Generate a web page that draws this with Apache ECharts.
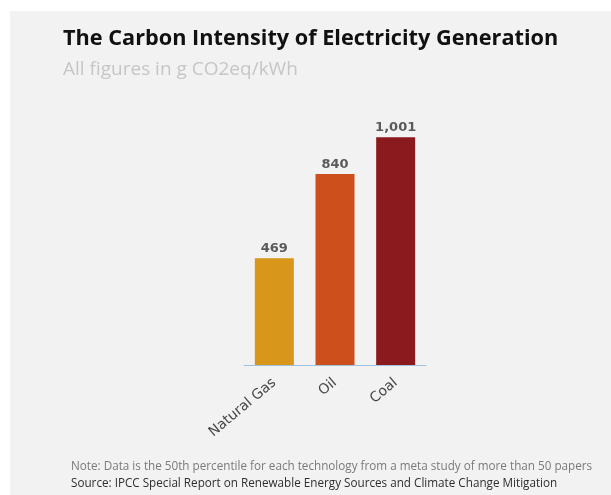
<!DOCTYPE html>
<html>
<head>
<meta charset="utf-8">
<script src="https://cdn.jsdelivr.net/npm/echarts@6/dist/echarts.min.js"></script>
<style>
  html, body { margin: 0; padding: 0; background: #ffffff; }
  #chart { width: 611px; height: 495px; }
</style>
</head>
<body>
<div id="chart"></div>
<script>
// Median life-cycle emissions per generation technology
const categories = ['Natural Gas', 'Oil', 'Coal'];
const intensity = [469, 840, 1001];
const barColors = ['#d8961a', '#cd4f1b', '#8b1a1e'];

const chart = echarts.init(document.getElementById('chart'));

chart.setOption({
  backgroundColor: '#ffffff',
  animation: false,
  graphic: [
    {
      type: 'rect',
      z: -10,
      shape: { x: 10, y: 11, width: 601, height: 484 },
      style: { fill: '#f2f2f2' },
      silent: true
    }
  ],
  title: [
    {
      text: 'The Carbon Intensity of Electricity Generation',
      left: 58, top: 23,
      textStyle: { fontFamily: 'Open Sans', fontWeight: 700, fontSize: 21.7, color: '#111111' }
    },
    {
      text: 'All figures in g CO2eq/kWh',
      left: 58, top: 55,
      textStyle: { fontFamily: 'Open Sans', fontWeight: 400, fontSize: 19, color: '#c6c6c6' }
    },
    {
      text: 'Note: Data is the 50th percentile for each technology from a meta study of more than 50 papers',
      left: 66, top: 456,
      textStyle: { fontFamily: 'Open Sans', fontWeight: 400, fontSize: 11.7, color: '#7a7a7a' }
    },
    {
      text: 'Source: IPCC Special Report on Renewable Energy Sources and Climate Change Mitigation',
      left: 66, top: 473,
      textStyle: { fontFamily: 'Open Sans', fontWeight: 400, fontSize: 11.7, color: '#2e2e2e' }
    }
  ],
  grid: { left: 244, top: 92, width: 182, height: 273, containLabel: false },
  xAxis: {
    type: 'category',
    data: categories,
    axisLine: { show: true, lineStyle: { color: '#9fc2e2', width: 1 } },
    axisTick: { show: false },
    axisLabel: {
      rotate: 40,
      interval: 0,
      margin: 16,
      fontFamily: 'DejaVu Sans',
      fontSize: 14,
      color: '#474747'
    }
  },
  yAxis: {
    type: 'value',
    min: 0,
    max: 1200,
    show: false,
    splitLine: { show: false }
  },
  series: [
    {
      type: 'bar',
      barWidth: 39,
      data: intensity.map((v, i) => ({ value: v, itemStyle: { color: barColors[i] } })),
      label: {
        show: true,
        position: 'top',
        distance: 3,
        fontFamily: 'DejaVu Sans',
        fontWeight: 'bold',
        fontSize: 13,
        color: '#5a5a5a',
        formatter: p => p.value.toLocaleString('en-US')
      }
    }
  ]
});
</script>
</body>
</html>
